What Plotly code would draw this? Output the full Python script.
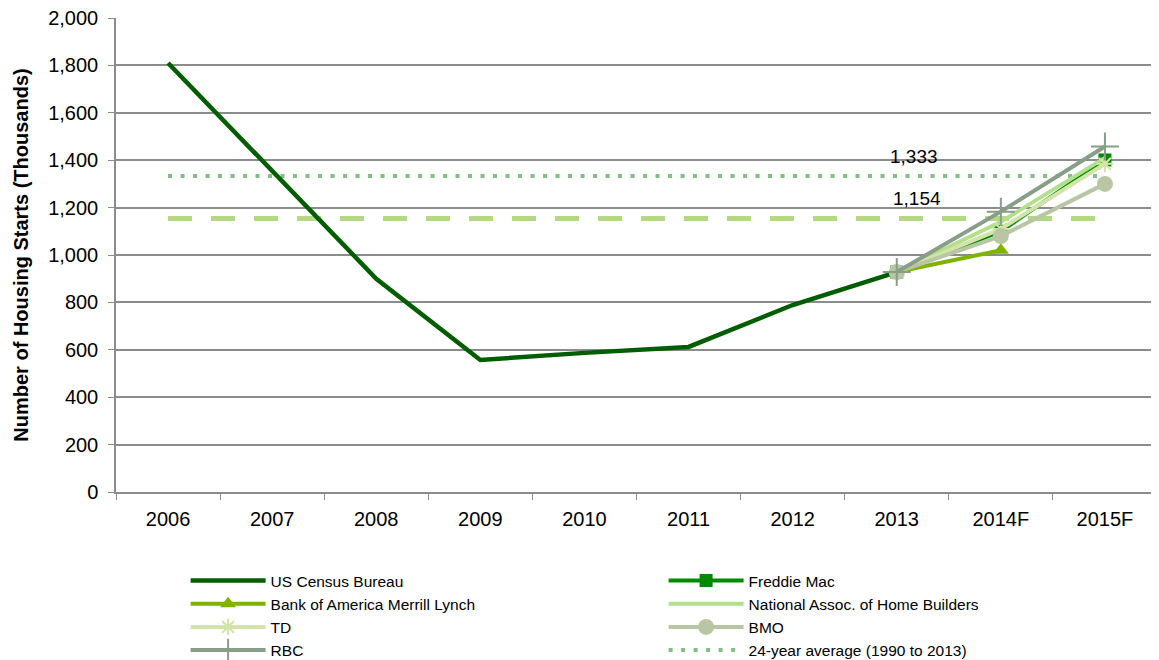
import plotly.graph_objects as go

categories = ["2006", "2007", "2008", "2009", "2010", "2011", "2012", "2013", "2014F", "2015F"]

us_census = [1810, 1355, 900, 557, 587, 612, 789, 928, None, None]
freddie_mac = [None, None, None, None, None, None, None, 928, 1100, 1401]
bank_of_america = [None, None, None, None, None, None, None, 928, 1020, None]
nahb = [None, None, None, None, None, None, None, 928, 1140, 1410]
td = [None, None, None, None, None, None, None, 928, 1110, 1385]
bmo = [None, None, None, None, None, None, None, 928, 1080, 1300]
rbc = [None, None, None, None, None, None, None, 928, 1183, 1458]
avg_24yr = [1333] * 10
avg_other = [1154] * 10

y_ticks = list(range(0, 2001, 200))
FONT = "Liberation Sans, Arial, Helvetica, sans-serif"

fig = go.Figure()

fig.add_trace(go.Scatter(x=categories, y=avg_24yr, mode="lines", name="24-year average (1990 to 2013)",
                         line=dict(color="#82bf82", width=4, dash="4px,8.5px"), legendrank=8))
fig.add_trace(go.Scatter(x=categories, y=avg_other, mode="lines", showlegend=False,
                         line=dict(color="#b3d985", width=5, dash="24px,19px")))

fig.add_trace(go.Scatter(x=categories, y=us_census, mode="lines", name="US Census Bureau",
                         line=dict(color="#005e00", width=4.5), legendrank=1))
fig.add_trace(go.Scatter(x=categories, y=freddie_mac, mode="lines+markers", name="Freddie Mac",
                         line=dict(color="#008a00", width=4),
                         marker=dict(symbol="square", size=13, color="#008a00"), legendrank=2))
fig.add_trace(go.Scatter(x=categories, y=bank_of_america, mode="lines+markers", name="Bank of America Merrill Lynch",
                         line=dict(color="#80b300", width=4),
                         marker=dict(symbol="triangle-up", size=14, color="#80b300"), legendrank=3))
fig.add_trace(go.Scatter(x=categories, y=nahb, mode="lines", name="National Assoc. of Home Builders",
                         line=dict(color="#b2e08a", width=4), legendrank=4))
fig.add_trace(go.Scatter(x=categories, y=td, mode="lines+markers", name="TD",
                         line=dict(color="#d3e3aa", width=4),
                         marker=dict(symbol="asterisk", size=14, color="#d3e3aa",
                                     line=dict(color="#d3e3aa", width=2)), legendrank=5))
fig.add_trace(go.Scatter(x=categories, y=bmo, mode="lines+markers", name="BMO",
                         line=dict(color="#b8c6a3", width=4),
                         marker=dict(symbol="circle", size=16, color="#b8c6a3"), legendrank=6))
fig.add_trace(go.Scatter(x=categories, y=rbc, mode="lines+markers", name="RBC",
                         line=dict(color="#889e88", width=4),
                         marker=dict(symbol="cross-thin", size=20, color="#889e88",
                                     line=dict(color="#889e88", width=2)), legendrank=7))

idx_2013 = categories.index("2013")
fig.add_annotation(x=idx_2013, y=avg_24yr[idx_2013], text=f"{avg_24yr[idx_2013]:,}", showarrow=False,
                   xshift=17, yshift=20, font=dict(size=19, color="black", family=FONT))
fig.add_annotation(x=idx_2013, y=avg_other[idx_2013], text=f"{avg_other[idx_2013]:,}", showarrow=False,
                   xshift=20, yshift=20, font=dict(size=19, color="black", family=FONT))

fig.update_layout(
    width=1151, height=652,
    margin=dict(l=108, r=2, t=10, b=168),
    paper_bgcolor="white", plot_bgcolor="white",
    font=dict(family=FONT, size=18, color="black"),
    showlegend=True,
    legend=dict(orientation="h", xref="container", yref="container",
                x=0.1543, y=1 - 556 / 652, xanchor="left", yanchor="top",
                entrywidth=388, entrywidthmode="pixels", itemwidth=75,
                font=dict(size=15.5, family=FONT), tracegroupgap=0,
                bgcolor="rgba(0,0,0,0)"),
)
fig.update_xaxes(type="category", categoryorder="array", categoryarray=categories,
                 showgrid=False, showline=True, linecolor="#8c8c8c", linewidth=1.5,
                 ticks="outside", tickson="boundaries", ticklen=6, tickcolor="#8c8c8c",
                 ticklabelstandoff=8, automargin=False,
                 tickfont=dict(size=20, family=FONT), range=[-0.5, 9.5], fixedrange=True)
fig.update_yaxes(range=[0, 2000], tickvals=y_ticks, ticktext=[f"{v:,}" for v in y_ticks],
                 showgrid=True, gridcolor="#8c8c8c", gridwidth=1.5,
                 showline=True, linecolor="#8c8c8c", linewidth=1.5,
                 ticks="outside", ticklen=6, tickcolor="#8c8c8c", zeroline=False,
                 ticklabelstandoff=6, ticklabeloverflow="allow", automargin=False,
                 tickfont=dict(size=20, family=FONT),
                 title=dict(text="<b>Number of Housing Starts (Thousands)</b>",
                            font=dict(size=20, family=FONT), standoff=14))

fig.write_html("out.html")
